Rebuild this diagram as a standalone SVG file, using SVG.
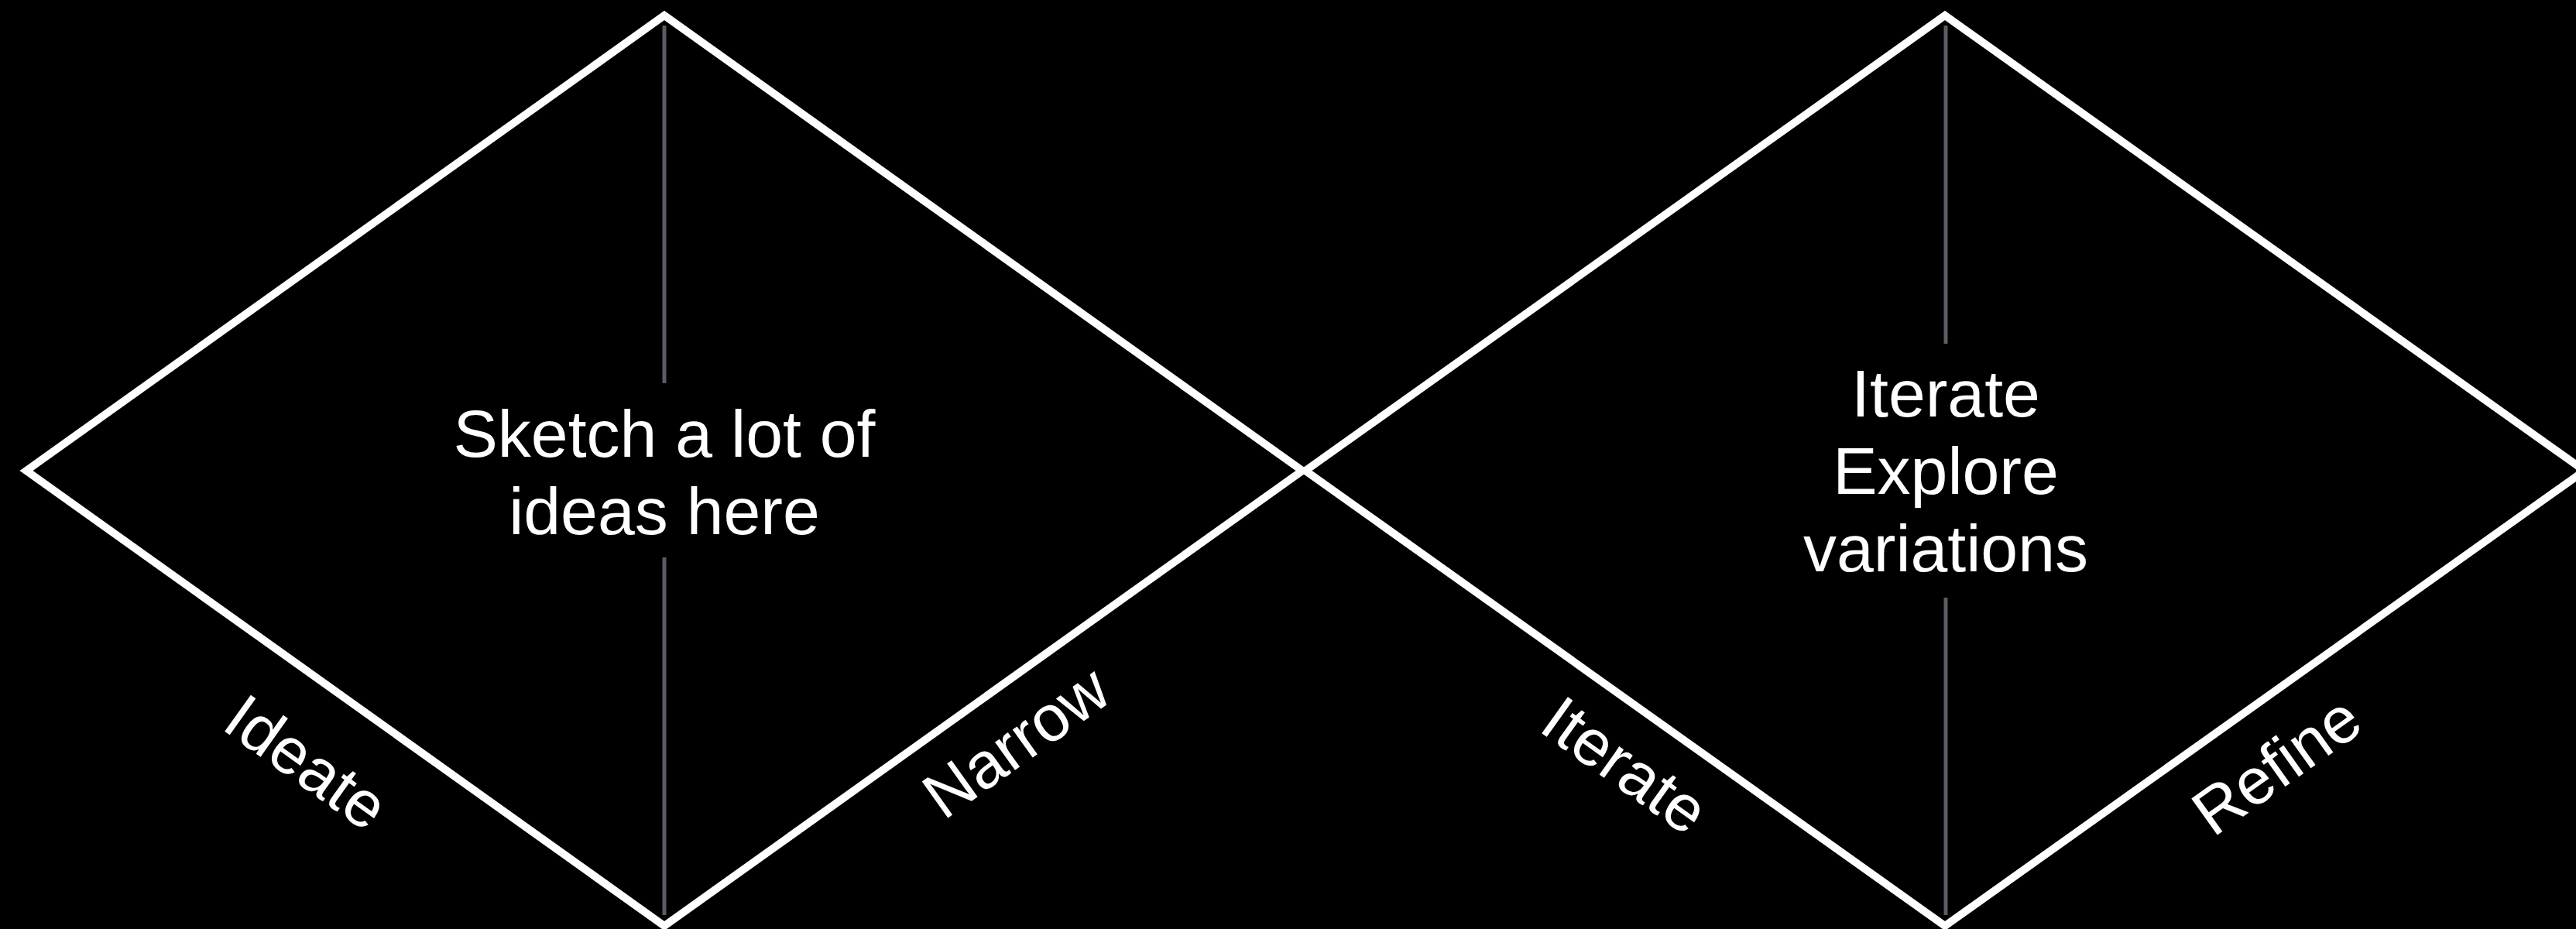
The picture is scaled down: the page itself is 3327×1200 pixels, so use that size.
<svg xmlns="http://www.w3.org/2000/svg" width="3327" height="1200" viewBox="0 0 3327 1200">
<style>
.bg{fill:#000}
.dia{fill:none;stroke:#fff;stroke-width:10;stroke-linejoin:miter;stroke-miterlimit:10}
.axis{stroke:#5a5d63;stroke-width:5}
.t{fill:#fff;font-family:"Liberation Sans",Arial,Helvetica,sans-serif;font-size:86px;text-anchor:middle}
.lbl{font-size:84px}
</style>
<rect class="bg" x="0" y="0" width="3327" height="1200"/>
<g id="diamond-left">
<polygon class="dia" points="34,608 858,20 1682,608 858,1196"/>
</g>
<g id="diamond-right">
<polygon class="dia" points="1686,608 2512,20 3338,608 2512,1196"/>
</g>
<g id="connectors">
<line class="axis" x1="858" y1="33" x2="858" y2="495"/>
<line class="axis" x1="858" y1="720" x2="858" y2="1182"/>
<line class="axis" x1="2513" y1="33" x2="2513" y2="444"/>
<line class="axis" x1="2513" y1="772" x2="2513" y2="1182"/>
</g>
<g id="text-left">
<text class="t" x="858" y="590">Sketch a lot of</text>
<text class="t" x="858" y="690">ideas here</text>
</g>
<g id="text-right">
<text class="t" x="2513" y="538">Iterate</text>
<text class="t" x="2513" y="638">Explore</text>
<text class="t" x="2513" y="738">variations</text>
</g>
<g id="label-ideate"><text class="t lbl" transform="translate(379,1008) rotate(35.5)">Ideate</text></g>
<g id="label-narrow"><text class="t lbl" transform="translate(1329,982) rotate(-35.5)">Narrow</text></g>
<g id="label-iterate"><text class="t lbl" transform="translate(2082,1012) rotate(35.5)">Iterate</text></g>
<g id="label-refine"><text class="t lbl" transform="translate(2957,1012) rotate(-35.5)">Refine</text></g>
</svg>
